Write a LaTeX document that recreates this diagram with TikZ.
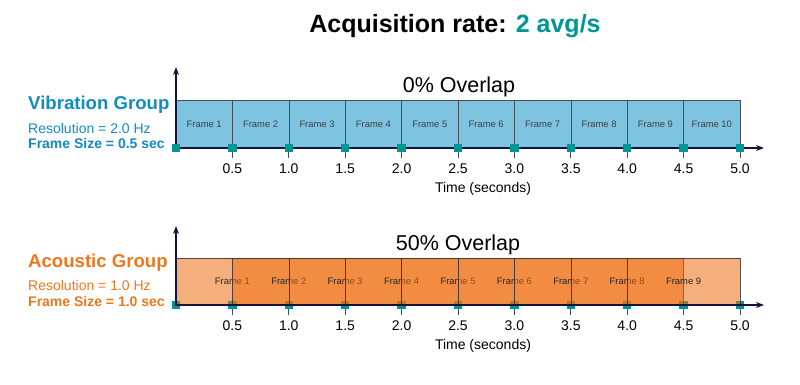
\documentclass[tikz,border=0pt]{standalone}
\usepackage{fontspec}
\setmainfont{Liberation Sans}
\usetikzlibrary{arrows.meta}

\definecolor{vibblue}{RGB}{18,138,196}
\definecolor{framebl}{RGB}{126,195,224}
\definecolor{acorange}{RGB}{240,118,28}
\definecolor{frameor}{RGB}{237,110,18}
\definecolor{tealsq}{RGB}{0,150,150}
\definecolor{axisnavy}{RGB}{18,20,60}
\definecolor{edgegray}{RGB}{70,78,88}

\begin{document}
\begin{tikzpicture}[x=1pt,y=-1pt]
        \tikzstyle{sqmark}=[rectangle,fill=tealsq,minimum size=8.5pt,inner sep=0pt]
        \tikzstyle{axisline}=[draw=axisnavy,line width=1.8pt,{Stealth[length=8pt,width=6pt]}-{Stealth[length=8pt,width=6pt]}]
        \tikzstyle{tickline}=[draw=edgegray,line width=0.9pt]
        \tikzstyle{ticklabel}=[font=\fontsize{14}{16}\selectfont,anchor=base]
        \tikzstyle{blueframe}=[rectangle,draw=edgegray,line width=0.6pt,fill=framebl,minimum width=56.4pt,minimum height=48pt,inner sep=0pt,font=\fontsize{9.4}{11}\selectfont,text=black!75]
        \tikzstyle{orangeframe}=[rectangle,draw=black!80,draw opacity=0.85,line width=0.6pt,fill=frameor,fill opacity=0.55,text opacity=1,minimum width=112.8pt,minimum height=47pt,inner sep=0pt,font=\fontsize{9.4}{11}\selectfont,text=black!85]
        \tikzstyle{grouptitle}=[anchor=base west,inner sep=0pt,font=\bfseries\fontsize{18.6}{22}\selectfont]
        \tikzstyle{groupinfo}=[anchor=base west,inner sep=0pt,font=\fontsize{14}{16}\selectfont]
        \tikzstyle{overlap}=[anchor=base,inner sep=0pt,font=\fontsize{21.5}{24}\selectfont]
        \useasboundingbox (0,0) rectangle (800,385);

        % title
        \node[anchor=base,inner sep=0pt,font=\bfseries\fontsize{25}{30}\selectfont] (title) at (455,33)
          {Acquisition rate: \textcolor{tealsq}{2 avg/s}};

        % vibration group
        \node[grouptitle,text=vibblue] (vib_name) at (28,110) {Vibration Group};
        \node[groupinfo,text=vibblue] (vib_res) at (28,133) {Resolution = 2.0 Hz};
        \node[groupinfo,text=vibblue,font=\bfseries\fontsize{14}{16}\selectfont] (vib_size) at (28,149) {Frame Size = 0.5 sec};
        \node[overlap] (vib_overlap) at (459,93) {0\% Overlap};
        \foreach \i in {1,...,10}
          \node[blueframe] (vf_\i) at (176+\i*56.4-28.2,124) {Frame \i};
        \coordinate (v_o) at (176,148);
        \coordinate (v_y) at (176,67);
        \coordinate (v_x) at (764,148);
        \draw[axisline] (v_y) -- (v_o) -- (v_x);
        \node[sqmark] (vs_0) at (v_o) {};
        \foreach \i/\t in {1/0.5,2/1.0,3/1.5,4/2.0,5/2.5,6/3.0,7/3.5,8/4.0,9/4.5,10/5.0} {
          \node[sqmark] (vs_\i) at (176+\i*56.4,148) {};
          \draw[tickline] (vs_\i.south) -- ++(0,6);
          \node[ticklabel] (vt_\i) at (176+\i*56.4,173) {\t};
        }
        \node[ticklabel] (vib_time) at (483,192) {Time (seconds)};

        % acoustic group
        \node[grouptitle,text=acorange] (ac_name) at (28,267) {Acoustic Group};
        \node[groupinfo,text=acorange] (ac_res) at (28,290) {Resolution = 1.0 Hz};
        \node[groupinfo,text=acorange,font=\bfseries\fontsize{14}{16}\selectfont] (ac_size) at (28,306) {Frame Size = 1.0 sec};
        \node[overlap] (ac_overlap) at (458,250) {50\% Overlap};
        \coordinate (a_o) at (176,305);
        \coordinate (a_y) at (176,226);
        \coordinate (a_x) at (764,305);
        \node[sqmark] (as_0) at (a_o) {};
        \foreach \i in {1,...,10}
          \node[sqmark] (as_\i) at (176+\i*56.4,305) {};
        \foreach \i in {1,...,9}
          \node[orangeframe] (af_\i) at (176+\i*56.4,281.5) {Frame \i};
        \draw[axisline] (a_y) -- (a_o) -- (a_x);
        \foreach \i/\t in {1/0.5,2/1.0,3/1.5,4/2.0,5/2.5,6/3.0,7/3.5,8/4.0,9/4.5,10/5.0} {
          \draw[tickline] (as_\i.south) -- ++(0,6);
          \node[ticklabel] (at_\i) at (176+\i*56.4,330) {\t};
        }
        \node[ticklabel] (ac_time) at (483,349) {Time (seconds)};
      \end{tikzpicture}
\end{document}
